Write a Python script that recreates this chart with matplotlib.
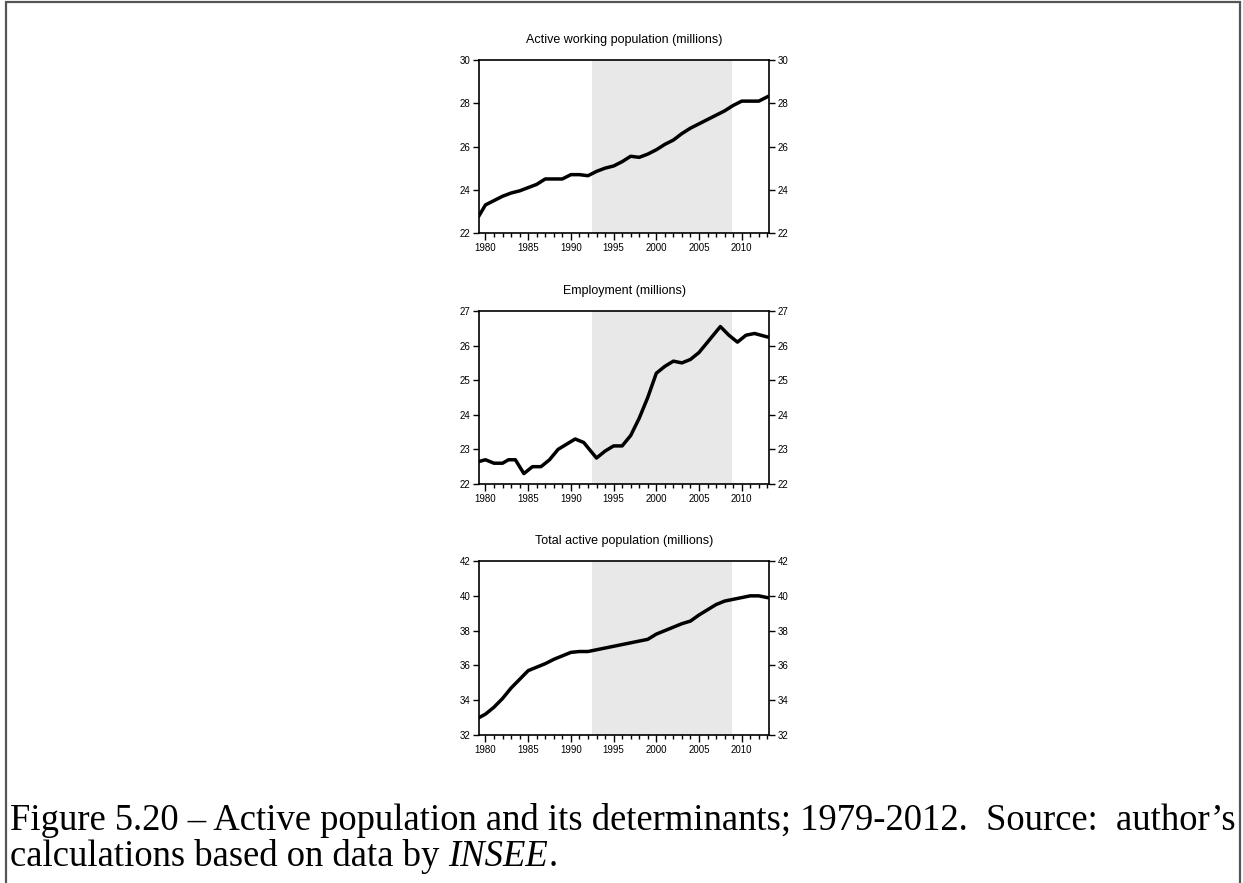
import matplotlib
matplotlib.use("Agg")
import matplotlib.pyplot as plt
from matplotlib.ticker import MultipleLocator
from matplotlib.patches import Rectangle

# annual readings, millions
years_active = [1979.25, 1980, 1981, 1982, 1983, 1984, 1985, 1986, 1987, 1988,
                1989, 1990, 1991, 1992, 1993, 1994, 1995, 1996, 1997, 1998,
                1999, 2000, 2001, 2002, 2003, 2004, 2005, 2006, 2007, 2008,
                2009, 2010, 2011, 2012, 2013]
active_working = [22.8, 23.3, 23.5, 23.7, 23.85, 23.95, 24.1, 24.25, 24.5, 24.5,
                  24.5, 24.7, 24.7, 24.65, 24.85, 25.0, 25.1, 25.3, 25.55, 25.5,
                  25.65, 25.85, 26.1, 26.3, 26.6, 26.85, 27.05, 27.25, 27.45, 27.65,
                  27.9, 28.1, 28.1, 28.1, 28.3]

years_emp = [1979.25, 1980, 1981, 1982, 1982.7, 1983.5, 1984.5, 1985.5, 1986.5,
             1987.5, 1988.5, 1989.5, 1990.5, 1991.5, 1993.0, 1994, 1995, 1996,
             1997, 1998, 1999, 2000, 2001, 2002, 2003, 2004, 2005, 2006,
             2007.5, 2008.5, 2009.5, 2010.5, 2011.5, 2013]
employment = [22.65, 22.7, 22.6, 22.6, 22.7, 22.7, 22.3, 22.5, 22.5,
              22.7, 23.0, 23.15, 23.3, 23.2, 22.75, 22.95, 23.1, 23.1,
              23.4, 23.9, 24.5, 25.2, 25.4, 25.55, 25.5, 25.6, 25.8, 26.1,
              26.55, 26.3, 26.1, 26.3, 26.35, 26.25]

years_total = years_active
total_active = [33.0, 33.2, 33.6, 34.1, 34.7, 35.2, 35.7, 35.9, 36.1, 36.35,
                36.55, 36.75, 36.8, 36.8, 36.9, 37.0, 37.1, 37.2, 37.3, 37.4,
                37.5, 37.8, 38.0, 38.2, 38.4, 38.55, 38.9, 39.2, 39.5, 39.7,
                39.8, 39.9, 40.0, 40.0, 39.9]

titles = ["Active working population (millions)",
          "Employment (millions)",
          "Total active population (millions)"]
ylims = [(22, 30), (22, 27), (32, 42)]
ysteps = [2, 1, 2]
shade = (1992.5, 2008.9)

fig = plt.figure(figsize=(12.43, 8.83), dpi=100)
plt.rcParams['font.family'] = ['Liberation Sans', 'DejaVu Sans']

panels = [(years_active, active_working, 0.7361, 0.1959),
          (years_emp, employment, 0.4519, 0.1959),
          (years_total, total_active, 0.1676, 0.1970)]

for i, (x, y, bottom, height) in enumerate(panels):
    ax = fig.add_axes([0.3854, bottom, 0.2333, height])
    ax.axvspan(shade[0], shade[1], color='#e8e8e8', lw=0, zorder=0)
    ax.plot(x, y, color='black', lw=2.5, solid_joinstyle='round', zorder=2)
    ax.set_xlim(1979.25, 2013.2)
    ax.set_ylim(*ylims[i])
    ax.xaxis.set_major_locator(MultipleLocator(5))
    ax.xaxis.set_minor_locator(MultipleLocator(1))
    ax.yaxis.set_major_locator(MultipleLocator(ysteps[i]))
    ax.tick_params(axis='x', which='major', direction='out', length=5, width=1,
                   labelsize=7, pad=2)
    ax.tick_params(axis='x', which='minor', direction='out', length=3, width=1)
    ax.tick_params(axis='y', which='major', direction='out', length=4, width=1,
                   labelsize=7, pad=2, right=True, labelright=True)
    for s in ax.spines.values():
        s.set_linewidth(1.2)
    ax.set_title(titles[i], fontsize=9, pad=12)

# frame around the figure and its caption
fig.patches.append(Rectangle((6 / 1243, -0.01), (1240 - 6) / 1243, 1.008,
                             transform=fig.transFigure, fill=False,
                             edgecolor='#555555', lw=1.6))

line1 = "Figure 5.20 \u2013 Active population and its determinants; 1979-2012.  Source:  author\u2019s"
serif = ['Liberation Serif', 'DejaVu Serif']
base1 = 1 - 830 / 883
base2 = 1 - 866 / 883
t1 = fig.text(10 / 1243, base1, line1, fontsize=20, family=serif, va='baseline')
fig.canvas.draw()
w = t1.get_window_extent().width
t1.set_fontsize(20 * 1225 / w)
size = t1.get_fontsize()
t2 = fig.text(10 / 1243, base2, "calculations based on data by ",
              fontsize=size, family=serif, va='baseline')
fig.canvas.draw()
w2 = t2.get_window_extent().width
t3 = fig.text((10 + w2) / 1243, base2, "INSEE", fontsize=size, family=serif,
              style='italic', va='baseline')
fig.canvas.draw()
x3 = (10 + w2 + t3.get_window_extent().width) / 1243
fig.text(x3, base2, ".", fontsize=size, family=serif, va='baseline')

fig.savefig("out.png", dpi=100)
